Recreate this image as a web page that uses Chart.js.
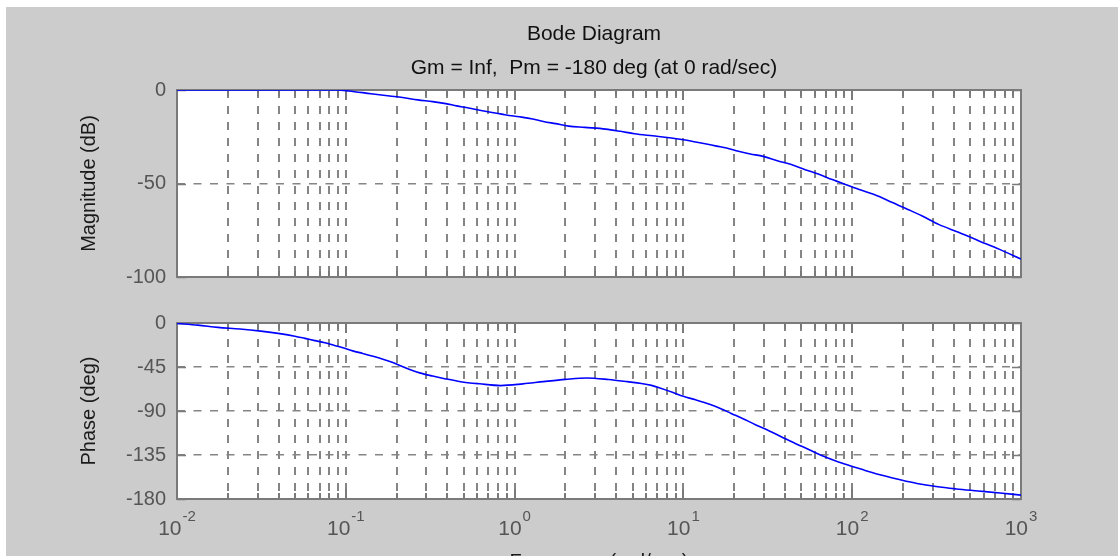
<!DOCTYPE html>
<html>
<head>
<meta charset="utf-8">
<title>Bode Diagram</title>
<script src="https://cdn.jsdelivr.net/npm/chart.js@4.4.1/dist/chart.umd.min.js"></script>
<style>
  html, body { margin: 0; padding: 0; background: #ffffff; }
  #page { position: relative; width: 1118px; height: 556px; overflow: hidden; }
  #figure { position: absolute; left: 6px; top: 7px; right: 0; bottom: 0; background: #cccccc; }
  canvas { position: absolute; left: 70px; }
  #mag-canvas { top: 0; }
  #phase-canvas { top: 300px; }
</style>
</head>
<body>
<div id="page">
  <div id="figure"></div>
  <canvas id="mag-canvas" width="1048" height="300"></canvas>
  <canvas id="phase-canvas" width="1048" height="256"></canvas>
</div>
<script>
// values
const magFreq = [0.01, 0.0885, 0.104, 0.141, 0.182, 0.217, 0.267, 0.327, 0.391, 0.454, 0.534, 0.621, 0.721, 0.838, 0.960,
  1.10, 1.28, 1.48, 1.75, 2.09, 2.60, 3.46, 4.24, 5.13, 6.56, 8.26, 10.0, 11.8, 13.7, 15.7, 18.0, 21.2, 24.9, 29.7, 36.0,
  43.6, 52.7, 62.9, 76.1, 90.9, 110, 135, 173, 218, 260, 327, 430, 564, 741, 1000];
const magDb = [0, 0, -0.5, -2, -3.2, -4, -5.3, -6.2, -7.3, -8.5, -9.6, -10.8, -11.9, -12.9, -13.8,
  -14.5, -15.5, -16.8, -18, -19.3, -20, -20.9, -22.1, -23.4, -24.5, -25.5, -26.6, -27.8, -28.9, -30, -31, -32.8, -34.2, -35.5, -37.8,
  -39.9, -42.6, -44.9, -47.9, -50.5, -53.2, -55.9, -60.2, -64.2, -67.4, -72, -76.2, -80.7, -85.1, -90.4];

const phaseFreq = [0.01, 0.0133, 0.0175, 0.0236, 0.0314, 0.0407, 0.0499, 0.0572, 0.0656, 0.0751, 0.0849, 0.0960, 0.110, 0.126,
  0.145, 0.166, 0.190, 0.209, 0.239, 0.274, 0.327, 0.391, 0.479, 0.621, 0.827, 1.12, 1.48, 2.00, 2.67, 3.60, 4.66, 5.64, 6.47,
  7.41, 8.61, 10.0, 11.8, 14.3, 16.8, 19.2, 22.4, 26.7, 32.3, 38.5, 46.0, 55.7, 66.5, 79.3, 96.0, 118, 146, 190, 242, 314, 413,
  557, 751, 1000];
const phaseDeg = [-0.5, -2.2, -4.5, -6.1, -8.3, -10.9, -13.5, -15.7, -18, -20.2, -22.8, -25.3, -28.5, -31.1,
  -34, -37, -40.5, -43.5, -47.5, -51, -54.3, -57.2, -60, -62.2, -64, -62.3, -60, -57.7, -56.2, -57.8, -60, -61.8, -63.8,
  -67, -70.9, -75, -78.6, -83.2, -87.9, -92.5, -97.6, -104, -110.4, -116.8, -123.2, -129.6, -135.8, -140.9, -145.7, -150.5, -155.3, -160.1, -164.1, -167.3,
  -169.7, -171.8, -173.9, -176];

const decadeTicks = [0.01, 0.1, 1, 10, 100, 1000];
const decadeExponents = ['-2', '-1', '0', '1', '2', '3'];
const magTicks = [-100, -50, 0];
const phaseTicks = [-180, -135, -90, -45, 0];

const FONT = "'Liberation Sans', Arial, Helvetica, sans-serif";
const GRID_GRAY = '#858585';
const AXIS_GRAY = '#7a7a7a';
const LABEL_GRAY = '#555555';
const TEXT_DARK = '#1a1a1a';

// 1..9 per decade, the usual log grid
function getLogGridValues() {
  const values = [];
  decadeTicks.slice(0, -1).forEach(base => {
    for (let m = 1; m < 10; m++) values.push(base * m);
  });
  values.push(decadeTicks[decadeTicks.length - 1]);
  return values;
}
const gridValues = getLogGridValues();

function isDecade(value) {
  const lg = Math.log10(value);
  return Math.abs(lg - Math.round(lg)) < 1e-9;
}

const boxPlugin = {
  id: 'matlabBox',
  beforeDraw(chart) {
    const { ctx, chartArea: a } = chart;
    ctx.save();
    ctx.fillStyle = '#ffffff';
    ctx.fillRect(a.left, a.top, a.width, a.height);
    ctx.restore();
  },
  beforeDatasetsDraw(chart) {
    const { ctx, chartArea: a } = chart;
    const x = chart.scales.x;
    const y = chart.scales.y;
    ctx.save();
    ctx.strokeStyle = AXIS_GRAY;
    ctx.lineWidth = 2;
    ctx.beginPath();
    x.ticks.forEach(t => {
      const px = Math.round(x.getPixelForValue(t.value));
      const len = isDecade(t.value) ? 10 : 6;
      ctx.moveTo(px, a.top);
      ctx.lineTo(px, a.top + len);
      ctx.moveTo(px, a.bottom);
      ctx.lineTo(px, a.bottom - len);
    });
    ctx.stroke();
    ctx.lineWidth = 1.5;
    ctx.beginPath();
    y.ticks.forEach(t => {
      const py = Math.round(y.getPixelForValue(t.value)) + 0.5;
      ctx.moveTo(a.left, py);
      ctx.lineTo(a.left + 9, py);
      ctx.moveTo(a.right, py);
      ctx.lineTo(a.right - 9, py);
    });
    ctx.stroke();
    ctx.lineWidth = 2;
    ctx.strokeRect(a.left, a.top, a.width, a.height);
    ctx.restore();
  },
};

const decadeLabelPlugin = {
  id: 'decadeLabels',
  afterDraw(chart) {
    const { ctx } = chart;
    const x = chart.scales.x;
    ctx.save();
    ctx.fillStyle = LABEL_GRAY;
    ctx.textBaseline = 'alphabetic';
    ctx.textAlign = 'left';
    decadeTicks.forEach((value, i) => {
      const px = x.getPixelForValue(value);
      const exp = decadeExponents[i];
      ctx.font = '21px ' + FONT;
      const baseWidth = ctx.measureText('10').width;
      ctx.font = '15px ' + FONT;
      const expWidth = ctx.measureText(exp).width;
      const left = px - (baseWidth + 1 + expWidth) / 2;
      ctx.font = '21px ' + FONT;
      ctx.fillText('10', left, x.top + 36);
      ctx.font = '15px ' + FONT;
      ctx.fillText(exp, left + baseWidth + 1, x.top + 22);
    });
    ctx.restore();
  },
};

function freqScale(extra) {
  return Object.assign({
    type: 'logarithmic',
    min: decadeTicks[0],
    max: decadeTicks[decadeTicks.length - 1],
    afterBuildTicks(scale) {
      scale.ticks = gridValues.map(value => ({ value }));
    },
    ticks: { display: false },
    grid: { color: GRID_GRAY, lineWidth: 2, drawTicks: false },
    border: { display: false, dash: [8, 8] },
  }, extra);
}

function levelScale(min, max, tickValues, title) {
  return {
    type: 'linear',
    position: 'left',
    min,
    max,
    afterBuildTicks(scale) {
      scale.ticks = tickValues.map(value => ({ value }));
    },
    afterFit(scale) { scale.width = 107; },
    ticks: {
      color: LABEL_GRAY,
      font: { family: FONT, size: 20 },
      padding: 11,
      callback: value => String(value),
    },
    grid: { color: GRID_GRAY, lineWidth: 1.5, drawTicks: false },
    border: { display: false, dash: [8, 8.5] },
    title: {
      display: true,
      text: title,
      color: TEXT_DARK,
      font: { family: FONT, size: 20 },
      padding: { top: 7.5, bottom: 0 },
    },
  };
}

function lineDataset(freqs, values) {
  return {
    data: freqs.map((f, i) => ({ x: f, y: values[i] })),
    borderColor: '#0000ff',
    borderWidth: 1.6,
    pointRadius: 0,
    cubicInterpolationMode: 'monotone',
    fill: false,
  };
}

const commonOptions = {
  responsive: false,
  animation: false,
  devicePixelRatio: 1,
  events: [],
};

new Chart(document.getElementById('mag-canvas'), {
  type: 'line',
  data: { datasets: [lineDataset(magFreq, magDb)] },
  plugins: [boxPlugin],
  options: Object.assign({}, commonOptions, {
    layout: { padding: { top: 0, right: 0, bottom: 22, left: 0 } },
    plugins: {
      legend: { display: false },
      tooltip: { enabled: false },
      title: {
        display: true,
        text: 'Bode Diagram',
        color: '#111111',
        font: { family: FONT, size: 21, weight: 'normal' },
        padding: { top: 22, bottom: 0 },
      },
      subtitle: {
        display: true,
        text: 'Gm = Inf,  Pm = -180 deg (at 0 rad/sec)',
        color: '#111111',
        font: { family: FONT, size: 21, weight: 'normal' },
        padding: { top: 8.7, bottom: 8.9 },
      },
    },
    scales: {
      x: freqScale({ afterFit(scale) { scale.height = 0; } }),
      y: levelScale(magTicks[0], magTicks[magTicks.length - 1], magTicks, 'Magnitude (dB)'),
      yRight: {
        type: 'linear',
        position: 'right',
        afterFit(scale) { scale.width = 97; },
        ticks: { display: false },
        grid: { display: false },
        border: { display: false },
      },
    },
  }),
});

new Chart(document.getElementById('phase-canvas'), {
  type: 'line',
  data: { datasets: [lineDataset(phaseFreq, phaseDeg)] },
  plugins: [boxPlugin, decadeLabelPlugin],
  options: Object.assign({}, commonOptions, {
    layout: { padding: { top: 12, right: 97, bottom: 0, left: 0 } },
    plugins: {
      legend: { display: false },
      tooltip: { enabled: false },
    },
    scales: {
      x: freqScale({
        afterFit(scale) { scale.height = 57; },
        title: {
          display: true,
          text: 'Frequency (rad/sec)',
          color: TEXT_DARK,
          font: { family: FONT, size: 20 },
          padding: { top: 0, bottom: -18 },
        },
      }),
      y: levelScale(phaseTicks[0], phaseTicks[phaseTicks.length - 1], phaseTicks, 'Phase (deg)'),
    },
  }),
});
</script>
</body>
</html>
